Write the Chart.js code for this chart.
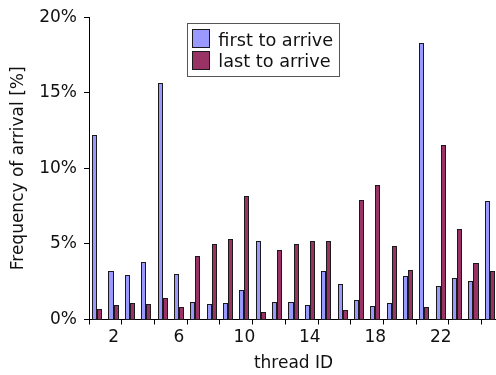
<!DOCTYPE html>
<html>
<head>
<meta charset="utf-8">
<script src="https://cdn.jsdelivr.net/npm/chart.js@4/dist/chart.umd.min.js"></script>
<style>
  html, body { margin: 0; padding: 0; overflow: hidden; background: #fff; }
  #wrap { position: absolute; left: 0; top: 0; width: 498px; height: 375px; }
</style>
</head>
<body>
<div id="wrap"><canvas id="chart" width="498" height="375"></canvas></div>
<script>
// Thread IDs along the x axis
const threadIds = [1, 2, 3, 4, 5, 6, 7, 8, 9, 10, 11, 12, 13, 14, 15, 16, 17, 18, 19, 20, 21, 22, 23, 24, 25];
// Share of barrier rounds in which each thread arrived first / last [%]
const firstToArrive = [12.2, 3.2, 2.94, 3.8, 15.65, 3.0, 1.19, 1.02, 1.06, 1.93, 5.17, 1.13, 1.15, 0.95, 3.22, 2.36, 1.32, 0.89, 1.06, 2.9, 18.3, 2.19, 2.77, 2.55, 7.81];
const lastToArrive  = [0.67, 0.97, 1.08, 1.02, 1.41, 0.82, 4.18, 4.98, 5.3, 8.14, 0.5, 4.61, 5.02, 5.17, 5.17, 0.61, 7.88, 8.92, 4.89, 3.29, 0.8, 11.52, 5.97, 3.74, 3.22];
// Thread IDs that get a tick label
const labeledThreads = [2, 6, 10, 14, 18, 22];
// Value axis range and step [%]
const yMin = 0, yMax = 20, yStep = 5;

const seriesNames = ['first to arrive', 'last to arrive'];
const seriesColors = ['#9999ff', '#993366'];
const outlineColor = '#1a1a1a';
const textColor = '#111';
const FONT = 'DejaVu Sans';

Chart.defaults.font.family = FONT;
Chart.defaults.color = textColor;

// Bars snapped to whole pixels with a crisp 1px outline
const crispBars = {
  id: 'crispBars',
  beforeDatasetDraw() { return false; },
  afterDatasetsDraw(chart) {
    const ctx = chart.ctx;
    ctx.save();
    ctx.lineWidth = 1;
    chart.data.datasets.forEach((ds, di) => {
      const meta = chart.getDatasetMeta(di);
      meta.data.forEach((bar) => {
        const { x, y, base, width } = bar.getProps(['x', 'y', 'base', 'width'], true);
        const l = Math.round(x - width / 2);
        const r = Math.round(x + width / 2);
        const t = Math.round(y);
        const b = Math.round(base);
        ctx.fillStyle = ds.backgroundColor;
        ctx.fillRect(l, t, r - l, b - t);
        ctx.strokeStyle = outlineColor;
        ctx.strokeRect(l + 0.5, t + 0.5, r - l - 1, b - t);
      });
    });
    ctx.restore();
  }
};

// Boxed legend drawn inside the plot area
const boxLegend = {
  id: 'boxLegend',
  afterDraw(chart) {
    const ctx = chart.ctx;
    ctx.save();
    ctx.fillStyle = '#fff';
    ctx.strokeStyle = '#555';
    ctx.lineWidth = 1;
    ctx.fillRect(187.5, 23.5, 152, 53);
    ctx.strokeRect(187.5, 23.5, 152, 53);
    ctx.font = '17.7px "' + FONT + '"';
    ctx.textBaseline = 'alphabetic';
    ctx.textAlign = 'left';
    chart.data.datasets.forEach((ds, i) => {
      const y = 29.5 + i * 22;
      ctx.fillStyle = ds.backgroundColor;
      ctx.fillRect(192.5, y, 17, 18);
      ctx.strokeStyle = outlineColor;
      ctx.strokeRect(192.5, y, 17, 18);
      ctx.fillStyle = textColor;
      ctx.fillText(ds.label, 218.3, 46 + i * 21);
    });
    ctx.restore();
  }
};

new Chart(document.getElementById('chart'), {
  type: 'bar',
  data: {
    labels: threadIds,
    datasets: [
      { label: seriesNames[0], data: firstToArrive, backgroundColor: seriesColors[0], borderWidth: 0 },
      { label: seriesNames[1], data: lastToArrive,  backgroundColor: seriesColors[1], borderWidth: 0 }
    ]
  },
  options: {
    responsive: false,
    animation: false,
    devicePixelRatio: 1,
    categoryPercentage: 0.62,
    barPercentage: 1.0,
    layout: { padding: { top: 11.5, right: 0, bottom: 0, left: 0 } },
    plugins: { legend: { display: false }, tooltip: { enabled: false } },
    scales: {
      x: {
        type: 'category',
        offset: true,
        grid: {
          offset: true,
          drawOnChartArea: false,
          drawTicks: true,
          tickLength: 5,
          color: (c) => (c.index !== undefined && c.index % 2 === 0) ? '#000' : 'rgba(0,0,0,0)'
        },
        border: { display: true, color: '#000', width: 1 },
        ticks: {
          autoSkip: false,
          maxRotation: 0,
          padding: 3,
          color: textColor,
          font: { size: 17 },
          callback: (v, i) => labeledThreads.includes(threadIds[i]) ? String(threadIds[i]) : ''
        },
        title: { display: true, text: 'thread ID', color: textColor, font: { size: 17 }, padding: { top: 0, bottom: 1 } },
        afterFit: (s) => { s.height = 55.5; }
      },
      y: {
        min: yMin,
        max: yMax,
        grid: { drawOnChartArea: false, drawTicks: true, tickLength: 5, color: '#000' },
        border: { display: true, color: '#000', width: 1 },
        ticks: {
          stepSize: yStep,
          padding: 7,
          color: textColor,
          font: { size: 17 },
          callback: (v) => v + '%'
        },
        title: { display: true, text: 'Frequency of arrival [%]', color: textColor, font: { size: 17 }, padding: { top: 8, bottom: 0 } },
        afterFit: (s) => { s.width = 89; }
      }
    }
  },
  plugins: [crispBars, boxLegend]
});
</script>
</body>
</html>
